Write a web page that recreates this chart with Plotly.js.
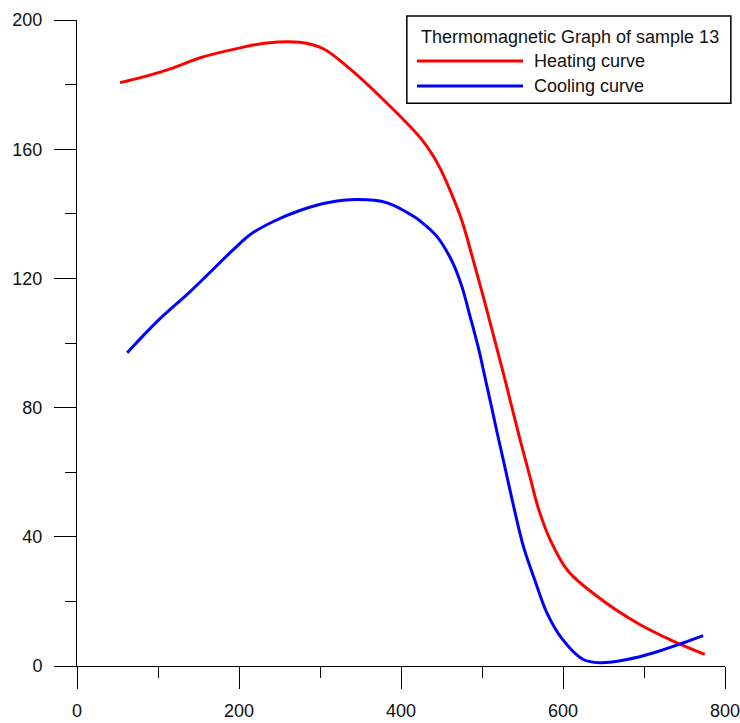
<!DOCTYPE html>
<html>
<head>
<meta charset="utf-8">
<script src="https://cdn.plot.ly/plotly-3.0.1.min.js"></script>
<style>html,body{margin:0;padding:0;background:#fff;}</style>
</head>
<body>
<div id="chart" style="width:740px;height:723px;"></div>
<script>
// Heating curve (temperature, magnetization)
const heatingT = [53, 82, 119, 152, 193, 234, 275, 304, 333, 378, 424, 440, 448, 461, 475, 489, 502, 514, 526, 536, 547, 559, 570, 584, 606, 642, 691, 736, 775];
const heatingM = [180.6, 182.4, 185.2, 188.3, 190.9, 192.9, 193.1, 191.1, 185.7, 175.4, 163.5, 157.8, 154.2, 147.0, 138.0, 125.8, 114.0, 102.5, 91.0, 81.0, 70.1, 58.8, 48.5, 39.2, 29.5, 21.6, 13.4, 7.7, 3.6];
// Cooling curve
const coolingT = [62, 99, 140, 193, 214, 243, 276, 309, 346, 383, 415, 424, 444, 463, 475, 485, 496, 504, 512, 518, 528, 539, 551, 566, 580, 598, 625, 646, 679, 712, 749, 773];
const coolingM = [97.0, 106.7, 116.0, 128.9, 133.6, 137.7, 141.1, 143.4, 144.4, 143.4, 139.3, 137.7, 133.1, 125.3, 117.6, 108.5, 98.0, 89.0, 80.0, 73.0, 61.9, 49.5, 37.1, 26.0, 16.5, 8.7, 2.0, 1.0, 2.0, 4.1, 7.2, 9.4];
const seriesNames = ["Heating curve", "Cooling curve"];
const legendTitle = "Thermomagnetic Graph of sample 13";

const FONT = "Arial, 'Liberation Sans', sans-serif";
const TXT = "#111111";

const traces = [
  {x: heatingT, y: heatingM, name: seriesNames[0], mode: "lines",
   line: {color: "#ff0000", width: 3, shape: "spline", smoothing: 1}},
  {x: coolingT, y: coolingM, name: seriesNames[1], mode: "lines",
   line: {color: "#0000ff", width: 3, shape: "spline", smoothing: 1}}
];

const axisCommon = {
  showgrid: false, zeroline: false, showline: true, linecolor: "#000", linewidth: 1,
  ticks: "outside", ticklen: 22, tickwidth: 1, tickcolor: "#000",
  tickfont: {family: FONT, size: 18, color: TXT}, fixedrange: true,
  ticklabeloverflow: "allow"
};

const layout = {
  width: 740, height: 723,
  margin: {l: 77, r: 15, t: 20, b: 57},
  paper_bgcolor: "#ffffff", plot_bgcolor: "#ffffff",
  showlegend: false,
  xaxis: Object.assign({}, axisCommon, {
    range: [0, 800], tick0: 0, dtick: 200, ticklabelstandoff: 6,
    minor: {dtick: 100, ticks: "outside", ticklen: 11, tickcolor: "#000", showgrid: false}
  }),
  yaxis: Object.assign({}, axisCommon, {
    range: [0, 200], tick0: 0, dtick: 40, ticklabelstandoff: 8,
    minor: {dtick: 20, ticks: "outside", ticklen: 11, tickcolor: "#000", showgrid: false}
  }),
  shapes: [
    {type: "rect", xref: "paper", yref: "paper", x0: 0.509, x1: 1.009, y0: 0.871, y1: 1.006,
     line: {color: "#000", width: 1.5}, fillcolor: "#ffffff", layer: "above"},
    {type: "line", xref: "paper", yref: "paper", x0: 0.5247, x1: 0.6883, y0: 0.9365, y1: 0.9365,
     line: {color: traces[0].line.color, width: 3}},
    {type: "line", xref: "paper", yref: "paper", x0: 0.5247, x1: 0.6883, y0: 0.8978, y1: 0.8978,
     line: {color: traces[1].line.color, width: 3}}
  ],
  annotations: [
    {xref: "paper", yref: "paper", x: 0.5278, y: 0.9737, xanchor: "left", yanchor: "middle",
     text: legendTitle, showarrow: false, font: {family: FONT, size: 18, color: TXT}},
    {xref: "paper", yref: "paper", x: 0.7022, y: 0.9365, xanchor: "left", yanchor: "middle",
     text: seriesNames[0], showarrow: false, font: {family: FONT, size: 18, color: TXT}},
    {xref: "paper", yref: "paper", x: 0.7022, y: 0.8978, xanchor: "left", yanchor: "middle",
     text: seriesNames[1], showarrow: false, font: {family: FONT, size: 18, color: TXT}}
  ]
};

Plotly.newPlot("chart", traces, layout, {staticPlot: true, displayModeBar: false});
</script>
</body>
</html>
